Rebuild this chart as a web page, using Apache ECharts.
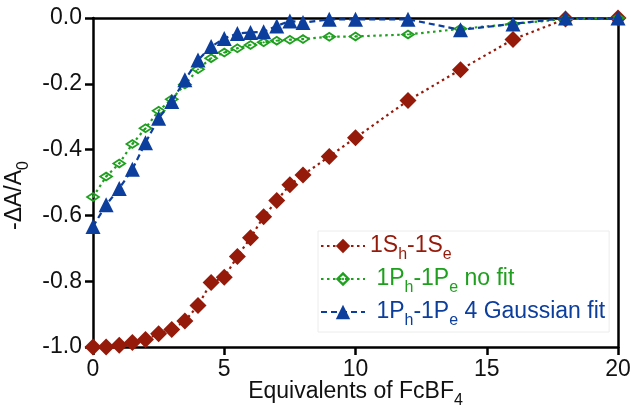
<!DOCTYPE html>
<html>
<head>
<meta charset="utf-8">
<script src="https://cdn.jsdelivr.net/npm/echarts@6/dist/echarts.min.js"></script>
<style>
html,body{margin:0;padding:0;background:#fff;}
#chart{width:631px;height:408px;}
</style>
</head>
<body>
<div id="chart"></div>
<script>
// x values (equivalents of FcBF4)
const xVals = [0,0.5,1,1.5,2,2.5,3,3.5,4,4.5,5,5.5,6,6.5,7,7.5,8,9,10,12,14,16,18,20];
// 1Sh-1Se
const sVals = [-1.0,-1.0,-0.995,-0.986,-0.977,-0.960,-0.947,-0.921,-0.874,-0.804,-0.788,-0.725,-0.668,-0.604,-0.555,-0.507,-0.477,-0.421,-0.364,-0.251,-0.157,-0.065,-0.003,0];
// 1Ph-1Pe no fit
const pNoFit = [-0.544,-0.482,-0.442,-0.383,-0.335,-0.282,-0.247,-0.202,-0.156,-0.122,-0.105,-0.092,-0.082,-0.074,-0.069,-0.066,-0.064,-0.057,-0.056,-0.050,-0.033,-0.018,-0.003,0];
// 1Ph-1Pe 4 Gaussian fit
const pGauss = [-0.634,-0.568,-0.518,-0.460,-0.379,-0.305,-0.254,-0.188,-0.128,-0.087,-0.062,-0.047,-0.044,-0.042,-0.024,-0.009,-0.014,-0.004,-0.004,-0.004,-0.036,-0.018,0,0];
const xTicks = [0,5,10,15,20];
const yTicks = [-1.0,-0.8,-0.6,-0.4,-0.2,0.0];
const seriesNames = ['1Sh-1Se','1Ph-1Pe no fit','1Ph-1Pe 4 Gaussian fit'];

const RED = '#961a0a', GREEN = '#1ea01e', BLUE = '#0c3e9e';
const FONT = 'Liberation Sans, Arial, sans-serif';
const FS = 23;
const pair = ys => xVals.map((x,i)=>[x, ys[i]]);

const eyeDiamond = 'path://M0,-6 L10,0 L0,6 L-10,0 Z M0,-3.2 L-6,0 L0,3.2 L6,0 Z M-2,0 L0,-1.3 L2,0 L0,1.3 Z';

function subStyles(color){
  return {
    [color.n]: {color: color.c, fontSize: FS, fontFamily: FONT, lineHeight: 24, verticalAlign: 'top'},
    [color.n+'s']: {color: color.c, fontSize: 16, fontFamily: FONT, lineHeight: 16, padding: [13,0,0,0], verticalAlign: 'top'}
  };
}
const rich = Object.assign({},
  subStyles({n:'r', c:RED}), subStyles({n:'g', c:GREEN}), subStyles({n:'b', c:BLUE}), subStyles({n:'k', c:'#111'}));

const chart = echarts.init(document.getElementById('chart'), null, {renderer:'canvas'});
const axisLineStyle = {color:'#000', width:2.5};
chart.setOption({
  animation: false,
  backgroundColor: '#fff',
  grid: {left: 93, right: 13, top: 18, bottom: 61, containLabel: false, outerBoundsMode: 'none'},
  legend: {
    data: seriesNames,
    orient: 'vertical',
    left: 318, top: 231,
    itemWidth: 44, itemHeight: 18, itemGap: 4,
    padding: [3, 4, 3, 2],
    borderColor: '#ececec', borderWidth: 1,
    formatter: function(name){
      if (name === seriesNames[0]) return '{r|1S}{rs|h}{r|-1S}{rs|e}';
      if (name === seriesNames[1]) return '{g| 1P}{gs|h}{g|-1P}{gs|e}{g| no fit}';
      return '{b| 1P}{bs|h}{b|-1P}{bs|e}{b| 4 Gaussian fit}';
    },
    textStyle: {rich: rich}
  },
  xAxis: [{
    type: 'value', min: 0, max: 20, interval: 5,
    axisLine: {show: true, lineStyle: axisLineStyle, onZero: false},
    axisTick: {show: true, length: 8, lineStyle: {width: 2.5, color:'#000'}},
    axisLabel: {fontSize: FS, color: '#111', fontFamily: FONT, margin: 11,
      formatter: v => xTicks.includes(v) ? String(v) : ''},
    splitLine: {show: false},
    name: '{k|Equivalents of FcBF}{ks|4}', nameLocation: 'middle', nameGap: 33,
    nameMoveOverlap: false,
    nameTextStyle: {rich: rich}
  },{
    type: 'value', position: 'top', min: 0, max: 20,
    axisLine: {show: true, lineStyle: axisLineStyle, onZero: false},
    axisTick: {show: false}, axisLabel: {show: false}, splitLine: {show: false}
  }],
  yAxis: [{
    type: 'value', min: -1, max: 0, interval: 0.2,
    axisLine: {show: true, lineStyle: axisLineStyle, onZero: false},
    axisTick: {show: true, length: 8, lineStyle: {width: 2.5, color:'#000'}},
    axisLabel: {fontSize: FS, color: '#111', fontFamily: FONT, margin: 11,
      formatter: v => { const t = yTicks.find(y => Math.abs(y - v) < 1e-6); return t === undefined ? '' : t.toFixed(1); }},
    splitLine: {show: false},
    name: '{k|-ΔA/A}{ks|0}', nameLocation: 'middle', nameGap: 66, nameRotate: 90,
    nameMoveOverlap: false,
    nameTextStyle: {rich: rich, padding: [0, 26, 0, 0]}
  },{
    type: 'value', position: 'right', min: -1, max: 0,
    axisLine: {show: true, lineStyle: axisLineStyle, onZero: false},
    axisTick: {show: false}, axisLabel: {show: false}, splitLine: {show: false}
  }],
  series: [{
    name: seriesNames[0], type: 'line', data: pair(sVals), clip: false,
    symbol: 'diamond', symbolSize: 17,
    itemStyle: {color: RED},
    lineStyle: {color: RED, width: 2.2, type: [2.5, 3.5]},
    z: 2
  },{
    name: seriesNames[1], type: 'line', data: pair(pNoFit), clip: false,
    symbol: eyeDiamond, symbolSize: [15, 10],
    itemStyle: {color: GREEN},
    lineStyle: {color: GREEN, width: 2.2, type: [2.5, 3.5]},
    z: 3
  },{
    name: seriesNames[2], type: 'line', data: pair(pGauss), clip: false,
    symbol: 'triangle', symbolSize: 15,
    itemStyle: {color: BLUE},
    lineStyle: {color: BLUE, width: 2.2, type: [6, 4]},
    z: 4
  }]
});
</script>
</body>
</html>
